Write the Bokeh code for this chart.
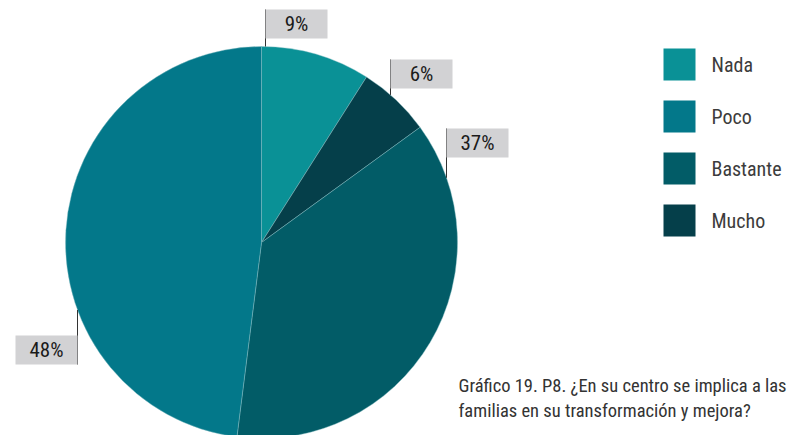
import math
from bokeh.plotting import figure
from bokeh.models import Range1d, ColumnDataSource
from bokeh.core.properties import value
from bokeh.embed import file_html
from bokeh.resources import INLINE

# ---- data ----
categories = ["Nada", "Poco", "Bastante", "Mucho"]
percent = [9, 48, 37, 6]
colors = ["#0a9196", "#03788a", "#025c67", "#053f4a"]
pie_order = ["Nada", "Mucho", "Bastante", "Poco"]
title_lines = ["Gráfico 19. P8. ¿En su centro se implica a las",
               "familias en su transformación y mejora?"]

# ---- layout (page px -> data) ----
W, H = 800, 435
FONT = value("'Liberation Sans Narrow', 'Roboto Condensed', Roboto, sans-serif")

def py(page_y):
    return H - page_y

def px(page_x):
    return page_x

cx, cy, R = px(261), py(242), 196

p = figure(width=W, height=H, output_backend="svg", toolbar_location=None,
           x_range=Range1d(0, W), y_range=Range1d(0, H), min_border=0,
           tools="")
p.axis.visible = False
p.grid.visible = False
p.outline_line_color = None
p.background_fill_color = "white"
p.border_fill_color = "white"

# wedges
cmap = dict(zip(categories, colors))
vmap = dict(zip(categories, percent))
starts, ends, cols = [], [], []
a = 90.0
for c in pie_order:
    sweep = vmap[c] / 100 * 360
    starts.append(math.radians(a))
    ends.append(math.radians(a - sweep))
    cols.append(cmap[c])
    a -= sweep
p.wedge(x=cx, y=cy, radius=R, start_angle=starts, end_angle=ends,
        direction="clock", fill_color=cols, line_color="#8fc3c8",
        line_width=0.6, line_alpha=0.7)

# labels with leader lines: (leader page x, box side, box top)
label_anchor = {"Nada": (265, "right", 9), "Mucho": (390, "right", 59),
                "Bastante": (446, "right", 128), "Poco": (77, "left", 335)}
bw, bh = 62, 29
for c in pie_order:
    lx, side, top = label_anchor[c]
    dx = px(lx) - cx
    edge_y = cy + math.sqrt(max(R * R - dx * dx, 0)) * (1 if side == "right" else -1)
    if side == "right":
        bx0 = px(lx)
        p.segment(x0=px(lx), y0=py(top), x1=px(lx), y1=edge_y,
                  line_color="#333333", line_width=1)
    else:
        bx0 = px(lx) - bw
        p.segment(x0=px(lx), y0=py(top + bh), x1=px(lx), y1=edge_y,
                  line_color="#333333", line_width=1)
    p.quad(left=bx0, right=bx0 + bw, top=py(top), bottom=py(top + bh),
           fill_color="#d2d2d4", line_color=None)
    p.text(x=bx0 + bw / 2, y=py(top + bh / 2), text=[f"{vmap[c]}%"],
           text_align="center", text_baseline="middle",
           text_font=FONT, text_font_size="21px", text_color="#1a1a1a")

# legend
lx0 = px(663)
ly = [py(64 + 52 * i) for i in range(len(categories))]
src = ColumnDataSource(dict(x=[lx0 + 16] * 4, y=ly, c=colors, t=categories,
                            tx=[px(711)] * 4))
p.rect(x="x", y="y", width=32, height=32, fill_color="c", line_color=None, source=src)
p.text(x="tx", y="y", text="t", text_baseline="middle", text_font=FONT,
       text_font_size="20px", text_color="#3c3c3c", source=src)

# caption
p.text(x=[px(458)] * 2, y=[py(385), py(410)], text=title_lines,
       text_baseline="middle", text_font=FONT, text_font_size="18.5px",
       text_color="#333333")

open("out.html", "w").write(file_html(p, INLINE))
